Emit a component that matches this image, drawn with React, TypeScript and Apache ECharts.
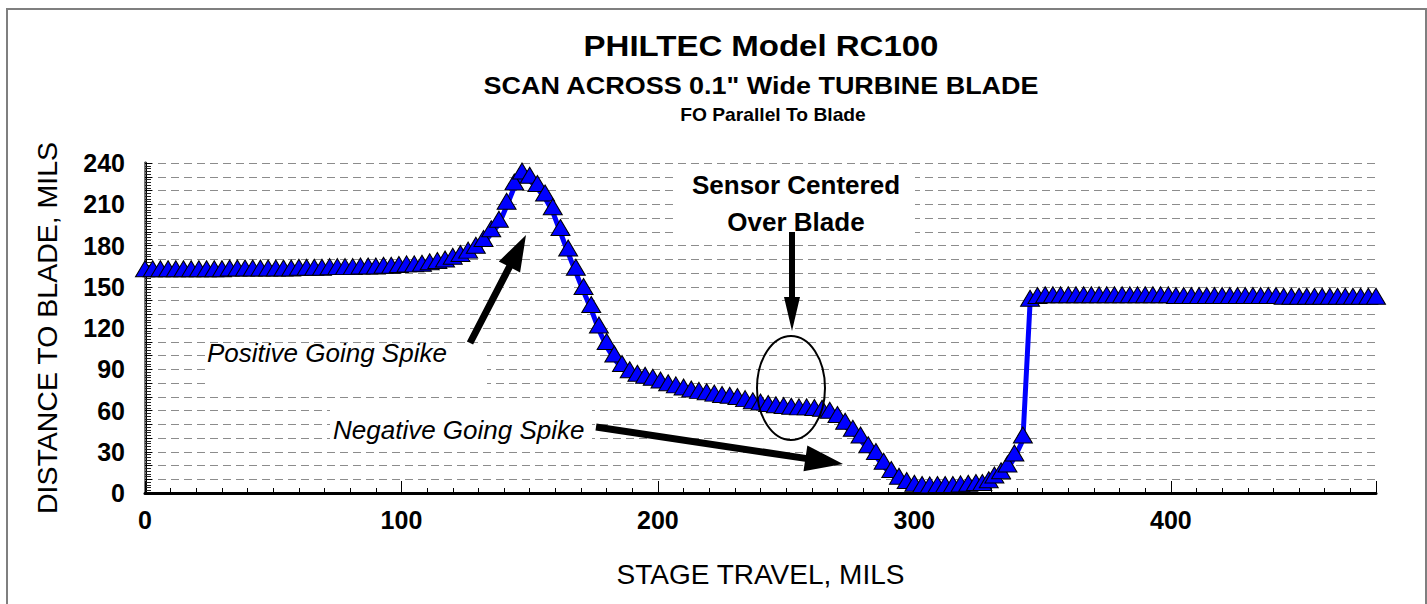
import React, { useEffect, useRef } from "react";
import * as echarts from "echarts";

const titleMain = "PHILTEC Model RC100";
const titleSub = 'SCAN ACROSS 0.1" Wide TURBINE BLADE';
const titleSub2 = "FO Parallel To Blade";
const xName = "STAGE TRAVEL, MILS";
const yName = "DISTANCE TO BLADE, MILS";

const xs = [
  0, 3, 6, 9, 12, 15, 18, 21, 24, 27, 30, 33, 36, 39, 42, 45, 48, 51, 54, 57,
  60, 63, 66, 69, 72, 75, 78, 81, 84, 87, 90, 93, 96, 99, 102, 105, 108, 111, 114, 117,
  120, 123, 126, 129, 132, 135, 138, 141, 144, 147, 150, 153, 156, 159, 162, 165, 168, 171, 174, 177,
  180, 183, 186, 189, 192, 195, 198, 201, 204, 207, 210, 213, 216, 219, 222, 225, 228, 231, 234, 237,
  240, 243, 246, 249, 252, 255, 258, 261, 264, 267, 270, 273, 276, 279, 282, 285, 288, 291, 294, 297,
  300, 303, 306, 309, 312, 315, 318, 321, 324, 326.5, 329, 331.2, 333.8, 336.3, 339, 342.3, 345.1,
  348, 351, 354, 357, 360, 363, 366, 369, 372, 375, 378, 381, 384, 387, 390, 393, 396, 399,
  402, 405, 408, 411, 414, 417, 420, 423, 426, 429, 432, 435, 438, 441,
  444, 447, 450, 453, 456, 459, 462, 465, 468, 471, 474, 477, 480,
];

const ys = [
  159.5, 159.5, 159.5, 159.5, 159.5, 159.5, 159.5, 159.5, 159.5, 159.5, 159.5, 160, 160, 160, 160, 160, 160, 160, 160, 160,
  160.5, 160.5, 160.5, 160.5, 161, 161, 161, 161, 161.5, 161.5, 161.5, 162, 162, 162.5, 163, 163, 163.5, 164.5, 165.5, 166.5,
  168.5, 170.5, 173, 176.5, 181.5, 188.5, 195.5, 208.5, 222.5, 230.5, 227.5, 221.5, 214.5, 204.5, 189.5, 174.5, 160.5, 146.5, 133.5, 118.5,
  106.5, 97.5, 90.5, 86, 83.5, 82, 80.5, 78.5, 76.5, 75, 73.5, 72, 71, 70, 69, 68, 67.5, 66.5, 65, 63.5,
  62.5, 61.5, 60.5, 60, 59.5, 59, 59, 58.5, 58, 56.5, 53.5, 48.5, 43.5, 38.5, 31.5, 26.5, 19.5, 13.5, 8.5, 5.5,
  3.5, 2.5, 2.3, 2.5, 2.5, 2.5, 3, 3.5, 4, 4, 6, 9.5, 12.5, 17.5, 25.5, 38.5, 138,
  140, 140.5, 140.5, 140.5, 140.5, 140.5, 140.5, 140.5, 140.5, 140.5, 140.5, 140.5, 140.5, 140.5, 140.5, 140.5, 140.5, 140.5,
  140, 140, 140, 140, 140, 140, 140, 140, 140, 140, 140, 140, 140, 140,
  139.5, 139.5, 139.5, 139.5, 139.5, 139.5, 139.5, 139.5, 139.5, 139.5, 139.5, 139.5, 139.5,
];

const FONT = "'Liberation Sans', Arial, Helvetica, sans-serif";

function arrow(tx: number, ty: number, hx: number, hy: number, sw: number, hw: number, hl: number) {
  const dx = hx - tx, dy = hy - ty;
  const L = Math.hypot(dx, dy);
  const ux = dx / L, uy = dy / L;
  const px = -uy, py = ux;
  const bx = hx - ux * hl, by = hy - uy * hl;
  return [
    [tx + (px * sw) / 2, ty + (py * sw) / 2],
    [bx + (px * sw) / 2, by + (py * sw) / 2],
    [bx + (px * hw) / 2, by + (py * hw) / 2],
    [hx, hy],
    [bx - (px * hw) / 2, by - (py * hw) / 2],
    [bx - (px * sw) / 2, by - (py * sw) / 2],
    [tx - (px * sw) / 2, ty - (py * sw) / 2],
  ];
}

export default function App() {
  const ref = useRef<HTMLDivElement>(null);
  useEffect(() => {
    if (!ref.current) return;
    const chart = echarts.init(ref.current, undefined, { renderer: "svg" });
    const data = xs.map((x, i) => [x, ys[i]]);
    const titleText = (text: string, x: number, y: number, size: number) => ({
      type: "text",
      x,
      y,
      scaleX: 1.1,
      z: 100,
      style: {
        text,
        align: "center",
        textAlign: "center",
        verticalAlign: "middle",
        textVerticalAlign: "middle",
        fontSize: size,
        fontWeight: "bold",
        fontFamily: FONT,
        fill: "#000",
      },
    });
    const annoText = (text: string, x: number, y: number, size: number, italic: boolean, align: string) => ({
      type: "text",
      x,
      y,
      z: 100,
      style: {
        text,
        align,
        textAlign: align,
        verticalAlign: "middle",
        textVerticalAlign: "middle",
        fontSize: size,
        fontWeight: italic ? "normal" : "bold",
        fontStyle: italic ? "italic" : "normal",
        fontFamily: FONT,
        fill: "#000",
      },
    });
    chart.setOption({
      animation: false,
      backgroundColor: "#fff",
      grid: { left: 145, right: 51, top: 163, bottom: 111, containLabel: false },
      xAxis: [
        {
          type: "value",
          min: 0,
          max: 480,
          interval: 100,
          position: "bottom",
          axisLine: { show: true, lineStyle: { color: "#000", width: 3 } },
          axisTick: { show: true, inside: true, length: 12, lineStyle: { color: "#000", width: 1 } },
          minorTick: { show: true, splitNumber: 10, length: 5, lineStyle: { color: "#000", width: 1 } },
          axisLabel: {
            fontSize: 25,
            fontWeight: "bold",
            color: "#000",
            fontFamily: FONT,
            margin: 14,
            showMaxLabel: false,
          },
          splitLine: { show: false },
          name: xName,
          nameLocation: "middle",
          nameGap: 67,
          nameTextStyle: { fontSize: 28, color: "#000", fontFamily: FONT },
        },
        {
          type: "value",
          min: 0,
          max: 480,
          position: "top",
          axisLine: { show: true, lineStyle: { color: "#000", width: 1.5 } },
          axisTick: { show: false },
          axisLabel: { show: false },
          splitLine: { show: false },
        },
      ],
      yAxis: [
        {
          type: "value",
          min: 0,
          max: 240,
          interval: 10,
          position: "left",
          axisLine: { show: true, lineStyle: { color: "#000", width: 3 } },
          axisTick: { show: true, inside: true, length: 7, lineStyle: { color: "#000", width: 1 } },
          minorTick: { show: true, splitNumber: 5, length: 6, lineStyle: { color: "#222", width: 1 } },
          axisLabel: {
            fontSize: 25,
            fontWeight: "bold",
            color: "#000",
            fontFamily: FONT,
            margin: 20,
            formatter: (v: number) => (v % 30 === 0 ? String(v) : ""),
          },
          splitLine: { show: true, lineStyle: { color: "#8c8c8c", width: 1, type: [8, 5] } },
          name: yName,
          nameLocation: "middle",
          nameGap: 84,
          nameRotate: 90,
          nameTextStyle: { fontSize: 28.5, color: "#000", fontFamily: FONT },
        },
        {
          type: "value",
          min: 0,
          max: 240,
          position: "right",
          axisLine: { show: true, lineStyle: { color: "#777", width: 2 } },
          axisTick: { show: false },
          axisLabel: { show: false },
          splitLine: { show: false },
        },
      ],
      series: [
        {
          type: "line",
          data,
          xAxisIndex: 0,
          yAxisIndex: 0,
          z: 3,
          symbol: "triangle",
          symbolSize: [19, 16],
          symbolOffset: [0, -5],
          lineStyle: { color: "#0000ff", width: 5 },
          itemStyle: { color: "#0000ff", borderColor: "#000", borderWidth: 1 },
          emphasis: { disabled: true },
        },
      ],
      graphic: [
        {
          type: "rect",
          z: -10,
          shape: { x: 7, y: 9, width: 1419, height: 640 },
          style: { fill: "none", stroke: "#7f7f7f", lineWidth: 2 },
        },
        titleText(titleMain, 761, 46, 30),
        titleText(titleSub, 761, 85, 24.5),
        titleText(titleSub2, 773, 115, 17.5),
        { type: "rect", z: 1, shape: { x: 677, y: 166, width: 238, height: 76 }, style: { fill: "#fff" } },
        { type: "rect", z: 1, shape: { x: 205, y: 345, width: 282, height: 45 }, style: { fill: "#fff" } },
        { type: "rect", z: 1, shape: { x: 330, y: 410, width: 262, height: 40 }, style: { fill: "#fff" } },
        annoText("Sensor Centered", 796, 185, 26, false, "center"),
        annoText("Over Blade", 796, 222, 26, false, "center"),
        annoText("Positive Going Spike", 207, 353, 26, true, "left"),
        annoText("Negative Going Spike", 333, 430, 26, true, "left"),
        {
          type: "ellipse",
          z: 100,
          shape: { cx: 791, cy: 388, rx: 34, ry: 52 },
          style: { fill: "none", stroke: "#000", lineWidth: 2 },
        },
        { type: "polygon", z: 100, shape: { points: arrow(470, 343, 526, 235, 7, 24, 36) }, style: { fill: "#000" } },
        { type: "polygon", z: 100, shape: { points: arrow(596, 427, 843, 464, 7, 26, 38) }, style: { fill: "#000" } },
        { type: "polygon", z: 100, shape: { points: arrow(792, 232, 792, 331, 6, 16, 34) }, style: { fill: "#000" } },
      ],
    });
    return () => chart.dispose();
  }, []);
  return (
    <div
      ref={ref}
      style={{ position: "fixed", left: 0, top: 0, width: 1427, height: 604, background: "#fff" }}
    />
  );
}
